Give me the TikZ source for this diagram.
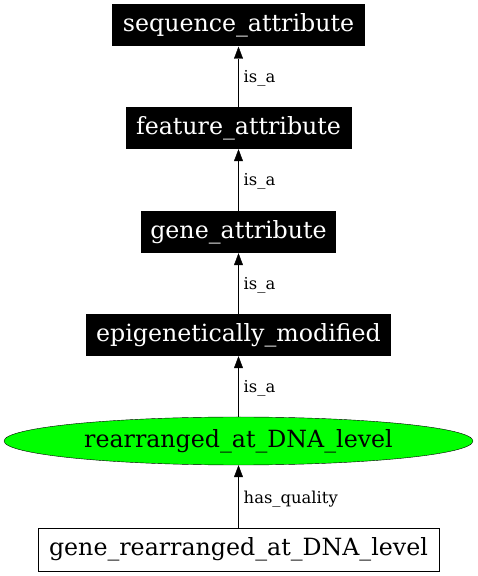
\documentclass[tikz,border=0pt]{standalone}
\usepackage{fontspec}
\setmainfont{DejaVu Serif}
\usetikzlibrary{shapes.geometric,arrows.meta}
\begin{document}
\begin{tikzpicture}[x=1pt,y=1pt,
  blk/.style={rectangle,fill=black,text=white,inner sep=0pt,minimum height=42pt,font=\fontsize{23.7}{26}\selectfont},
  wbox/.style={rectangle,draw=black,fill=white,inner sep=0pt,minimum height=43pt,font=\fontsize{23.7}{26}\selectfont},
  ell/.style={ellipse,draw=black,fill=green,inner sep=0pt,minimum height=48pt,font=\fontsize{23.7}{26}\selectfont},
  edge/.style={draw=black,-{Triangle[length=12pt,width=9pt]}},
  lbl/.style={font=\fontsize{16.4}{18}\selectfont,anchor=west,inner sep=0pt}]
\useasboundingbox (0,0) rectangle (477,576);
\node[blk,minimum width=253pt] (seq) at (238.5,550.5) {sequence\_attribute};
\node[blk,minimum width=226pt] (feat) at (238.5,448) {feature\_attribute};
\node[blk,minimum width=195pt] (gene) at (238.5,344) {gene\_attribute};
\node[blk,minimum width=305pt] (epi) at (238.5,241) {epigenetically\_modified};
\node[ell,minimum width=469pt] (rear) at (238.5,135) {rearranged\_at\_DNA\_level};
\node[wbox,minimum width=401pt] (grdl) at (238.5,26.5) {gene\_rearranged\_at\_DNA\_level};
\draw[edge] (feat) -- node[lbl,pos=0.47,xshift=5pt] {is\_a} (seq);
\draw[edge] (gene) -- node[lbl,pos=0.47,xshift=5pt] {is\_a} (feat);
\draw[edge] (epi) -- node[lbl,pos=0.47,xshift=5pt] {is\_a} (gene);
\draw[edge] (rear) -- node[lbl,pos=0.47,xshift=5pt] {is\_a} (epi);
\draw[edge] (grdl) -- node[lbl,pos=0.45,xshift=5pt] {has\_quality} (rear);
\end{tikzpicture}
\end{document}
